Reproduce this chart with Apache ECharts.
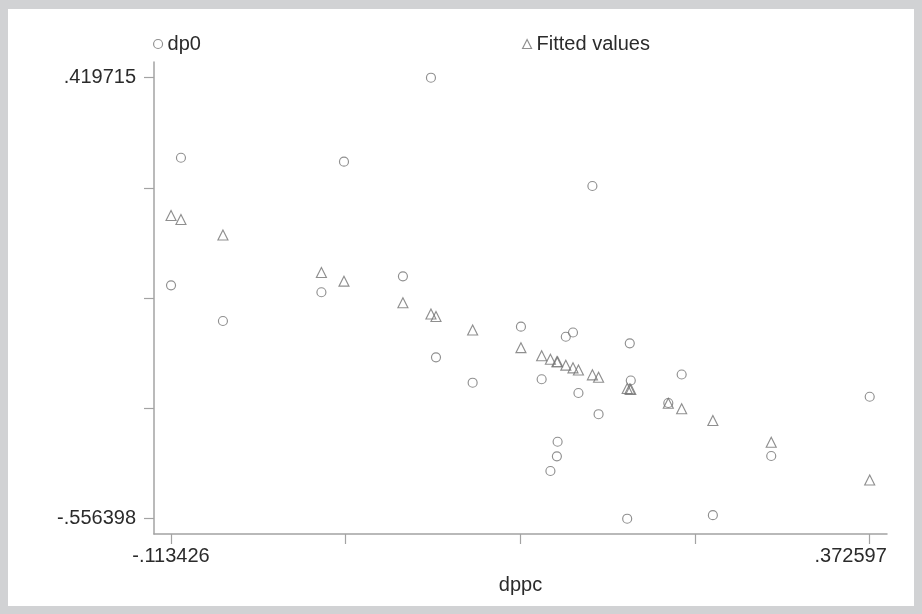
<!DOCTYPE html>
<html>
<head>
<meta charset="utf-8">
<title>dp0 vs dppc</title>
<script src="https://cdn.jsdelivr.net/npm/echarts@6/dist/echarts.min.js"></script>
<style>
  html, body { margin: 0; padding: 0; background: #d1d2d4; }
  #chart { width: 922px; height: 614px; }
</style>
</head>
<body>
<div id="chart"></div>
<script>
// Observations: regressor dppc, observed dp0 and the fitted values from the linear fit
const dppc = [
  -0.1134, -0.1065, -0.0773, -0.0088, 0.0069, 0.0479, 0.0674, 0.0709, 0.0964,
  0.1300, 0.1444, 0.1505, 0.1555, 0.1550, 0.1612, 0.1662, 0.1700, 0.1797,
  0.1840, 0.2039, 0.2057, 0.2064, 0.2325, 0.2418, 0.2635, 0.3041, 0.3726
];
const dp0 = [
  -0.0398, 0.2426, -0.1188, -0.0551, 0.2338, -0.0199, 0.4197, -0.1992, -0.2554,
  -0.1314, -0.2478, -0.4508, -0.3860, -0.4183, -0.1536, -0.1443, -0.2782, 0.1800,
  -0.3251, -0.5564, -0.1682, -0.2505, -0.3003, -0.2372, -0.5486, -0.4176, -0.2864
];
const fitted = [
  0.1147, 0.1059, 0.0715, -0.0115, -0.0307, -0.0785, -0.1033, -0.1089, -0.1387,
  -0.1779, -0.1958, -0.2034, -0.2089, -0.2089, -0.2166, -0.2224, -0.2273, -0.2379,
  -0.2434, -0.2682, -0.2693, -0.2700, -0.3008, -0.3131, -0.3390, -0.3871, -0.4707
];

// Axis ticks (all marked) and the labelled end points
const xTicks = [-0.113426, 0.00808, 0.129586, 0.251091, 0.372597];
const xLabelValues = [-0.113426, 0.372597];
const xLabelText = ['-.113426', '{last|.372597}'];
const yTicks = [-0.556398, -0.31237, -0.068342, 0.175687, 0.419715];
const yLabelValues = [-0.556398, 0.419715];
const yLabelText = ['-.556398', '.419715'];

const markColor = '#737373';
const axisColor = '#a3a3a3';
const textColor = '#2b2b2b';
const fontFamily = 'Arial, "Liberation Sans", Helvetica, sans-serif';
const fontSize = 20;

function labelFor(values, texts) {
  return function (v) {
    for (let i = 0; i < values.length; i++) {
      if (Math.abs(values[i] - v) < 1e-6) return texts[i];
    }
    return '';
  };
}

const pairs = (ys) => dppc.map((x, i) => [x, ys[i]]);

const hollow = {
  color: 'rgba(0,0,0,0)',
  borderColor: markColor,
  borderWidth: 1.15
};

const chart = echarts.init(document.getElementById('chart'), null, { renderer: 'canvas' });

chart.setOption({
  backgroundColor: '#d1d2d4',
  animation: false,
  graphic: [{
    type: 'rect',
    left: 8, top: 9,
    shape: { width: 906, height: 597 },
    style: { fill: '#ffffff' },
    z: -100,
    silent: true
  }],
  legend: [
    {
      data: [{ name: 'dp0', icon: 'circle' }],
      left: 148, top: 29,
      itemWidth: 9, itemHeight: 9, itemGap: 6,
      itemStyle: hollow,
      textStyle: { color: textColor, fontSize: fontSize, fontFamily: fontFamily },
      selectedMode: false
    },
    {
      data: [{ name: 'Fitted values', icon: 'triangle' }],
      left: 517, top: 29,
      itemWidth: 9, itemHeight: 9, itemGap: 6,
      itemStyle: hollow,
      textStyle: { color: textColor, fontSize: fontSize, fontFamily: fontFamily },
      selectedMode: false
    }
  ],
  grid: { left: 154, right: 35, top: 62, bottom: 80 },
  xAxis: {
    type: 'value',
    min: -0.12525,
    max: 0.38463,
    name: 'dppc',
    nameLocation: 'middle',
    nameGap: 41,
    nameTextStyle: { color: textColor, fontSize: fontSize, fontFamily: fontFamily },
    axisLine: { show: true, onZero: false, lineStyle: { color: axisColor, width: 1.5 } },
    axisTick: { show: true, length: 10, customValues: xTicks, lineStyle: { color: axisColor, width: 1.2 } },
    axisLabel: {
      customValues: xLabelValues,
      formatter: labelFor(xLabelValues, xLabelText),
      color: textColor, fontSize: fontSize, fontFamily: fontFamily, margin: 12,
      rich: {
        last: { fontSize: fontSize, fontFamily: fontFamily, color: textColor, padding: [0, 38, 0, 0] }
      }
    },
    splitLine: { show: false }
  },
  yAxis: {
    type: 'value',
    min: -0.59026,
    max: 0.45447,
    axisLine: { show: true, onZero: false, lineStyle: { color: axisColor, width: 1.5 } },
    axisTick: { show: true, length: 10, customValues: yTicks, lineStyle: { color: axisColor, width: 1.2 } },
    axisLabel: {
      customValues: yLabelValues,
      formatter: labelFor(yLabelValues, yLabelText),
      color: textColor, fontSize: fontSize, fontFamily: fontFamily, margin: 18
    },
    splitLine: { show: false }
  },
  series: [
    {
      name: 'dp0',
      type: 'scatter',
      symbol: 'circle',
      symbolSize: 9,
      itemStyle: hollow,
      data: pairs(dp0)
    },
    {
      name: 'Fitted values',
      type: 'scatter',
      symbol: 'triangle',
      symbolSize: 10,
      itemStyle: hollow,
      data: pairs(fitted)
    }
  ]
});
</script>
</body>
</html>
